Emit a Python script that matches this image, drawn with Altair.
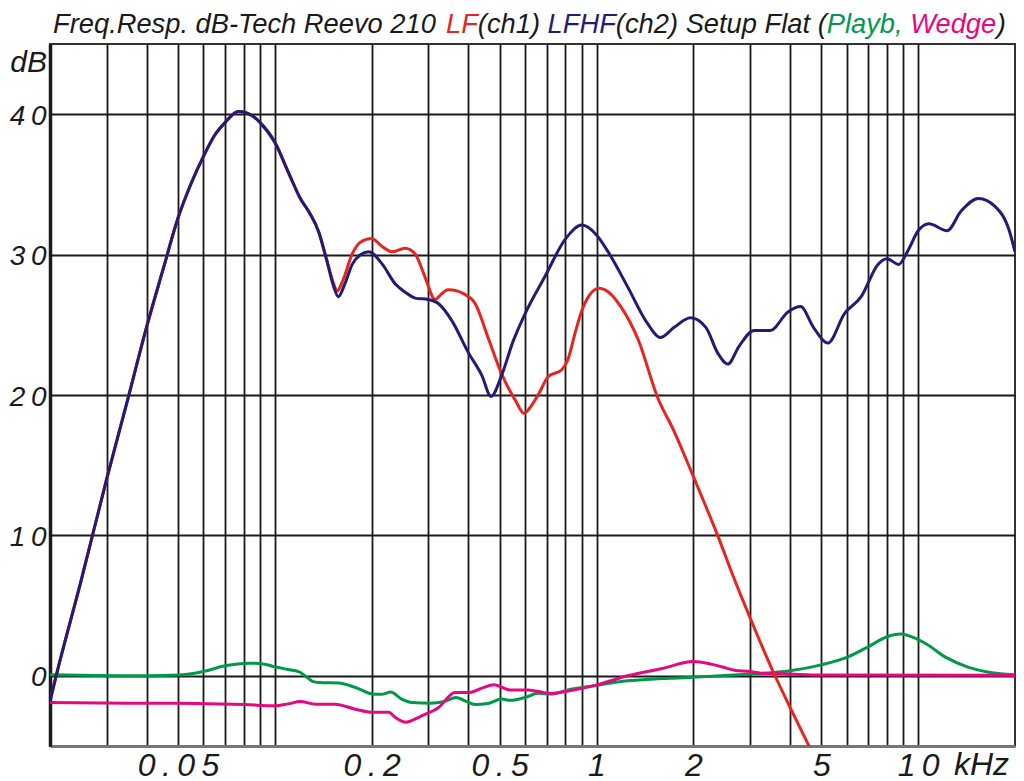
import altair as alt
import pandas as pd

# ---------------- data ----------------
# frequency in kHz, level in dB
shared_f = [0.02, 0.0209, 0.025, 0.03, 0.035, 0.04, 0.045, 0.05, 0.055, 0.06, 0.065, 0.07,
            0.077, 0.085, 0.09, 0.1, 0.11, 0.12, 0.128, 0.137, 0.145]
shared_db = [-1.8, 0.0, 6.8, 14.0, 19.8, 24.9, 29.0, 32.6, 35.1, 37.0, 38.5, 39.4,
             40.2, 39.9, 39.4, 38.0, 35.9, 34.0, 33.0, 31.6, 29.6]

lf_f = [0.152, 0.156, 0.163, 0.174, 0.185, 0.2, 0.215, 0.231, 0.254, 0.273, 0.293, 0.315,
        0.33, 0.345, 0.37, 0.387, 0.42, 0.46, 0.507, 0.56, 0.595, 0.63, 0.662, 0.707, 0.78,
        0.814, 0.86, 0.9, 0.95, 1.02, 1.06, 1.19, 1.35, 1.55, 1.74, 2.0, 2.38, 2.67, 3.0,
        3.53, 4.0, 4.6]
lf_db = [28.0, 27.4, 28.2, 30.05, 30.9, 31.15, 30.6, 30.2, 30.45, 30.05, 28.4, 26.8,
         27.2, 27.5, 27.4, 27.2, 26.5, 24.1, 21.5, 19.6, 18.7, 19.3, 20.1, 21.3, 21.8,
         22.5, 24.5, 26.0, 27.1, 27.6, 27.5, 26.3, 23.9, 19.8, 17.45, 14.2, 10.0, 7.0, 4.15,
         0.36, -2.26, -5.1]

lfhf_f = [0.152, 0.1575, 0.165, 0.174, 0.185, 0.196, 0.216, 0.237, 0.255, 0.273, 0.3, 0.323,
          0.355, 0.4, 0.44, 0.47, 0.507, 0.55, 0.6, 0.69, 0.8, 0.9, 1.0, 1.09, 1.25, 1.44,
          1.58, 1.74, 1.96, 2.19, 2.38, 2.56, 2.78, 3.09, 3.47, 3.93, 4.31, 4.73, 5.24, 5.9,
          6.65, 7.5, 8.0, 8.7, 9.3, 10.0, 10.8, 12.3, 13.6, 15.4, 17.4, 19.2, 20.0]
lfhf_db = [27.8, 27.0, 27.9, 29.3, 30.0, 30.2, 29.3, 27.9, 27.3, 26.9, 26.8, 26.5,
           25.3, 23.0, 21.4, 19.9, 21.4, 23.8, 25.8, 28.4, 31.1, 32.1, 31.4, 30.15, 27.7, 25.1,
           24.1, 24.8, 25.5, 24.8, 23.0, 22.2, 23.5, 24.6, 24.6, 25.9, 26.3, 24.8, 23.7, 25.8,
           27.0, 29.3, 29.7, 29.3, 30.3, 31.7, 32.2, 31.7, 33.1, 34.0, 33.4, 31.7, 30.2]

playb_f = [0.02, 0.028, 0.04, 0.05, 0.06, 0.07, 0.083, 0.093, 0.1, 0.111, 0.119, 0.125,
           0.131, 0.137, 0.158, 0.178, 0.203, 0.216, 0.229, 0.248, 0.267, 0.305, 0.336,
           0.366, 0.39, 0.42, 0.46, 0.507, 0.54, 0.6, 0.66, 0.72, 0.81, 0.99, 1.25, 2.0,
           3.0, 4.0, 5.0, 6.0, 7.0, 8.0, 8.8, 9.65, 10.6, 12.2, 14.2, 16.3, 20.0]
playb_db = [0.07, 0.02, 0.0, 0.05, 0.31, 0.71, 0.9, 0.83, 0.64, 0.43, 0.28, -0.05,
            -0.4, -0.48, -0.52, -0.83, -1.31, -1.31, -1.16, -1.66, -1.9, -1.95, -1.83,
            -1.54, -1.78, -2.05, -1.97, -1.66, -1.75, -1.54, -1.25, -1.3, -1.02, -0.7, -0.36, -0.1,
            0.12, 0.36, 0.78, 1.31, 2.07, 2.78, 2.97, 2.73, 2.26, 1.31, 0.64, 0.29, 0.07]

wedge_f = [0.02, 0.035, 0.057, 0.081, 0.1, 0.11, 0.12, 0.134, 0.154, 0.178, 0.2, 0.226,
           0.237, 0.254, 0.286, 0.323, 0.363, 0.4, 0.44, 0.48, 0.54, 0.61, 0.66, 0.72, 0.81,
           0.99, 1.25, 1.6, 2.0, 2.27, 2.45, 2.68, 3.0, 3.25, 4.0, 5.0, 20.0]
wedge_db = [-1.9, -1.95, -1.97, -2.05, -2.14, -2.0, -1.83, -2.02, -2.02, -2.38, -2.6, -2.6,
            -2.97, -3.3, -2.85, -2.26, -1.19, -1.19, -0.88, -0.64, -1.02, -1.02, -1.12, -1.26, -1.1,
            -0.68, 0.0, 0.52, 1.02, 0.83, 0.64, 0.4, 0.31, 0.19, 0.12, 0.05, 0.03]

grid_f = [0.03, 0.04, 0.05, 0.06, 0.07, 0.08, 0.09,
          0.1, 0.2, 0.3, 0.4, 0.5, 0.6, 0.7, 0.8, 0.9,
          1, 2, 3, 4, 5, 6, 7, 8, 9, 10]
x_tick_vals = [0.05, 0.2, 0.5, 1, 2, 5, 10]
x_tick_labels = ["0.05", "0.2", "0.5", "1", "2", "5", "10"]
y_tick_vals = [0, 10, 20, 30, 40]
y_tick_labels = ["0", "10", "20", "30", "40"]

title_parts = ["Freq.Resp. dB-Tech Reevo 210 ", "LF", "(ch1) ", "LFHF",
               "(ch2) Setup Flat (", "Playb, ", "Wedge", ")"]

C_TXT = "#1a1a1a"
C_LF = "#e3261f"
C_LFHF = "#241c74"
C_PLAYB = "#00994a"
C_WEDGE = "#e4097e"
title_colors = [C_TXT, C_LF, C_TXT, C_LFHF, C_TXT, C_PLAYB, C_WEDGE, C_TXT]
FONT = "Liberation Sans"
THIN = "\u2009"

# approximate advance widths (per 1000 em) of Liberation Sans, to chain title pieces
W = {" ": 278, "(": 333, ")": 333, ",": 278, ".": 278, "-": 333}
W.update({d: 556 for d in "0123456789"})
W.update(dict(zip("ABCDEFGHIJKLMNOPQRSTUVWXYZ",
                  [667, 667, 722, 722, 667, 611, 778, 722, 278, 500, 667, 556, 833, 722, 778,
                   667, 778, 722, 667, 611, 722, 667, 944, 667, 667, 611])))
W.update(dict(zip("abcdefghijklmnopqrstuvwxyz",
                  [556, 556, 500, 556, 556, 278, 556, 556, 222, 222, 500, 222, 833, 556, 556,
                   556, 556, 333, 500, 278, 556, 500, 722, 500, 500, 500])))


def text_width(s, size):
    return sum(W.get(ch, 556) for ch in s) * size / 1000.0


def spaced(s):
    return THIN.join(list(s))


def label_expr(vals, labels):
    expr = "''"
    for v, l in zip(reversed(vals), reversed(labels)):
        expr = f"abs(datum.value - {v}) < 1e-9 ? '{spaced(l)}' : ({expr})"
    return expr


PLOT_W, PLOT_H = 965, 702

xs = alt.Scale(type="log", domain=[0.02, 20], nice=False)
ys = alt.Scale(domain=[-5, 45], nice=False, zero=False)

x_axis = alt.Axis(values=grid_f, labelExpr=label_expr(x_tick_vals, x_tick_labels),
                  title=None, ticks=False, tickSize=0, labelPadding=4,
                  labelFontSize=32, labelFont=FONT, labelFontStyle="italic",
                  labelColor=C_TXT, labelOverlap=False, labelFlush=False,
                  grid=True, gridColor="#1a1a1a", gridWidth=1.8,
                  domainColor="#777777", domainWidth=3)
y_axis = alt.Axis(values=y_tick_vals, labelExpr=label_expr(y_tick_vals, y_tick_labels),
                  title=None, ticks=False, tickSize=0, labelPadding=4,
                  labelFontSize=28, labelFont=FONT, labelFontStyle="italic",
                  labelColor=C_TXT, labelOverlap=False, labelBaseline="middle",
                  labelOffset=2, labelFlush=False,
                  grid=True, gridColor="#1a1a1a", gridWidth=1.8,
                  domainColor="#1a1a1a", domainWidth=3.5)


def curve(fs, ds, color):
    df = pd.DataFrame({"f": fs, "db": ds})
    return alt.Chart(df).mark_line(color=color, strokeWidth=3, interpolate="monotone",
                                   clip=True).encode(
        x=alt.X("f:Q", scale=xs, axis=x_axis),
        y=alt.Y("db:Q", scale=ys, axis=y_axis),
        order="f:Q",
    )


layers = [
    curve(playb_f, playb_db, C_PLAYB),
    curve(wedge_f, wedge_db, C_WEDGE),
    curve(shared_f + lf_f, shared_db + lf_db, C_LF),
    curve(shared_f + lfhf_f, shared_db + lfhf_db, C_LFHF),
]


def note(text, px, py, color=C_TXT, size=28, align="left"):
    return alt.Chart(pd.DataFrame({"t": [text]})).mark_text(
        font=FONT, fontStyle="italic", fontSize=size, color=color,
        align=align, baseline="alphabetic").encode(
        x=alt.value(px), y=alt.value(py), text="t:N")


TITLE_SIZE = 27.3
cursor = 3.0
for part, col in zip(title_parts, title_colors):
    layers.append(note(part.strip(), cursor, -11, col, TITLE_SIZE))
    cursor += text_width(part, TITLE_SIZE)

layers.append(note("dB", -3, 28, size=30, align="right"))
layers.append(note("kHz", 904, 731, size=32))

chart = alt.layer(*layers).properties(
    width=PLOT_W, height=PLOT_H,
    padding={"left": 42, "top": 36, "right": 1, "bottom": 35},
    autosize=alt.AutoSizeParams(type="none"),
    background="white",
).configure_view(stroke="#333333", strokeWidth=2)

chart.save("out.html", embed_options={"renderer": "svg", "actions": False})
